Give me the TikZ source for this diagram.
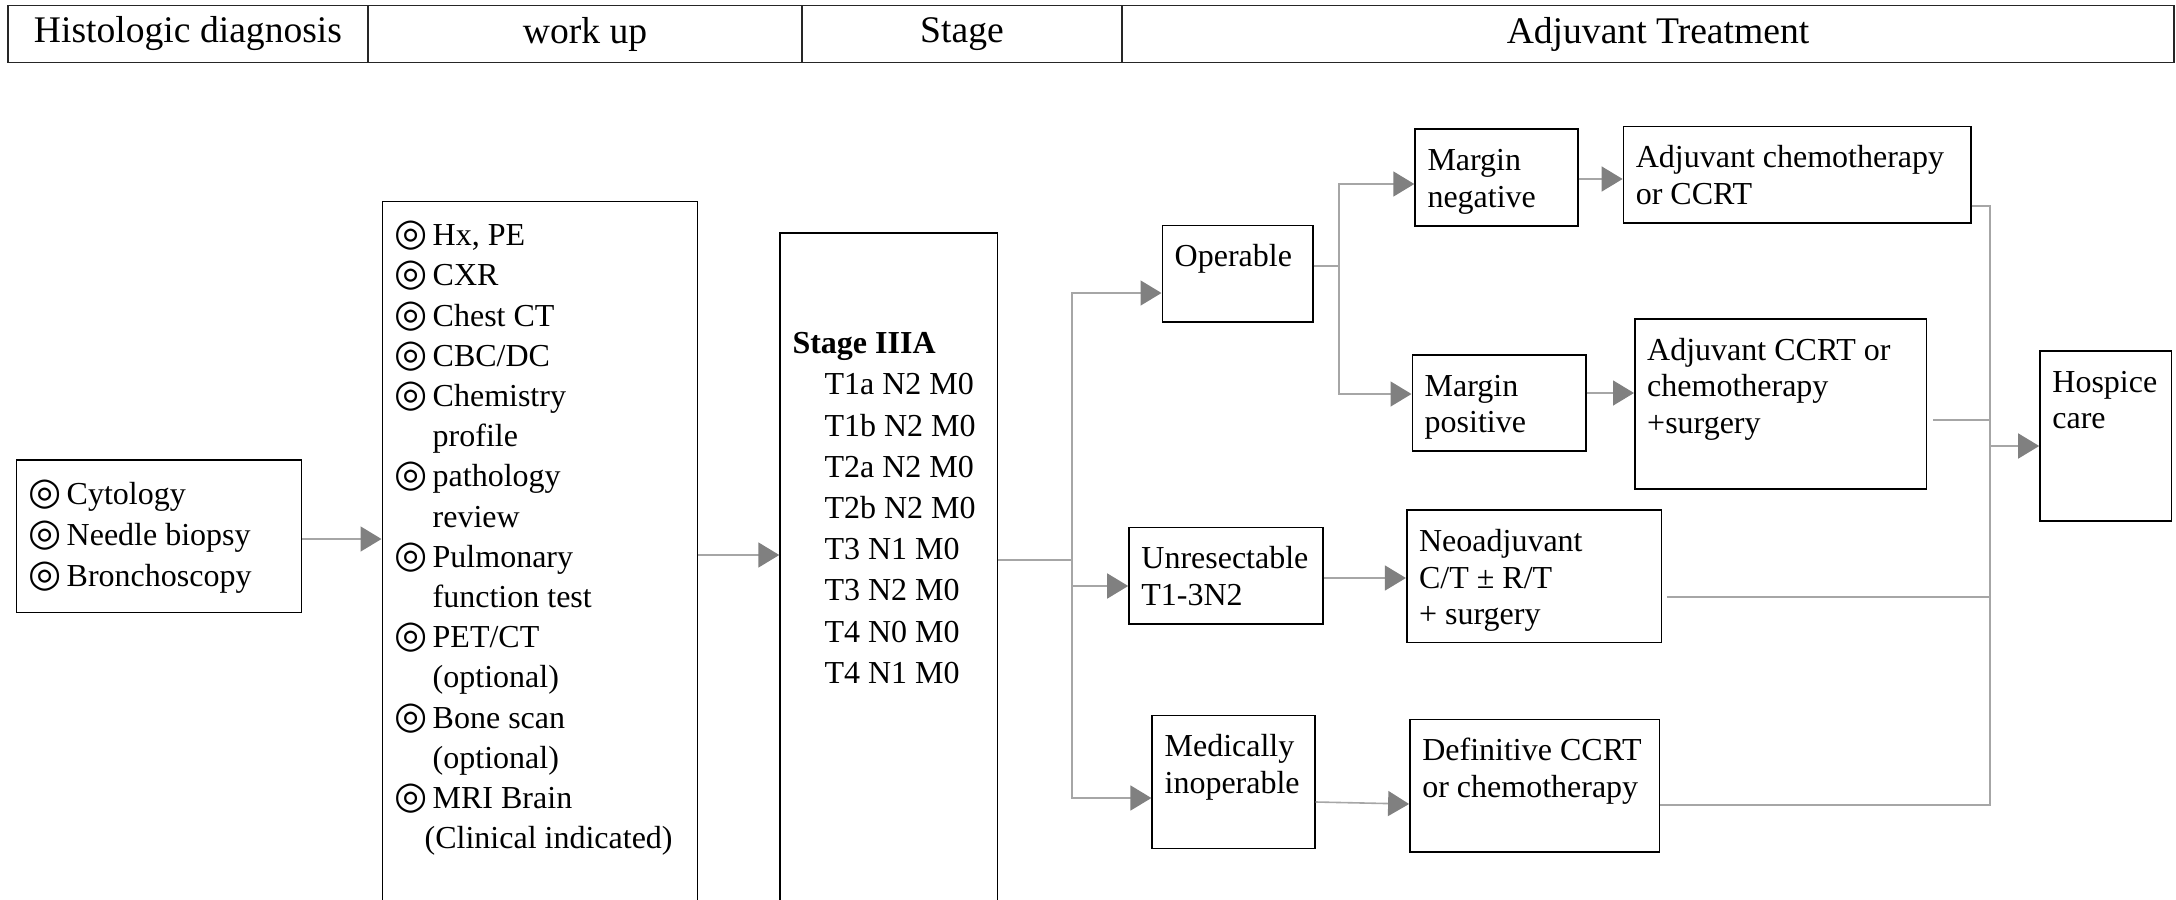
\documentclass[tikz,border=0pt]{standalone}
\usepackage{fontspec}
\setmainfont{Liberation Serif}
\newfontfamily\symfont{DejaVu Sans}
\usetikzlibrary{arrows.meta,calc}

\newcommand{\itm}{\makebox[19pt][l]{\symfont\fontsize{19}{20}\selectfont ◎}}
\newcommand{\cell}[4][0pt]{\parbox[t][\dimexpr#3pt/2-16pt\relax][t]{\dimexpr#2pt/2-12.4pt\relax}{\vspace*{#1}\strut#4}}

\begin{document}
\begin{tikzpicture}[x=0.5pt, y=-0.5pt,
	hd/.style={draw=black!85, line width=0.8pt, inner sep=0pt, minimum height=28.5pt, font=\fontsize{18.8}{22}\selectfont},
	box/.style={draw, line width=0.8pt, anchor=north west, inner xsep=6.2pt, inner ysep=8pt},
	rbox/.style={box, font=\fontsize{16}{18.25}\selectfont},
	lbox/.style={box, font=\fontsize{16}{20.4}\selectfont},
	lnk/.style={draw=gray!70, line width=0.8pt},
	arw/.style={lnk, -{Triangle[length=10.5pt, width=12.5pt, color=gray]}}]
	\useasboundingbox (0,0) rectangle (2176,900);
	% header row
	\node[hd, minimum width=180pt] (h1) at (188,34) {Histologic diagnosis};
	\node[hd, minimum width=217pt] (h2) at (585,34) {work up};
	\node[hd, minimum width=160pt] (h3) at (962,34) {Stage};
	\node[hd, minimum width=526pt] (h4) at (1648,34) {\hspace*{10pt}Adjuvant Treatment};
	% left columns
	\node[lbox, font=\fontsize{16}{20.5}\selectfont] (cyt) at (15.5,459) {\cell{285}{152.5}{\itm Cytology\\ \itm Needle biopsy\\ \itm Bronchoscopy}};
	\node[lbox, font=\fontsize{16}{20.1}\selectfont] (wu) at (381.5,200.7) {\cell{315}{730}{\itm Hx, PE\\ \itm CXR\\ \itm Chest CT\\ \itm CBC/DC\\ \itm Chemistry\\ \hspace*{19pt}profile\\ \itm pathology\\ \hspace*{19pt}review\\ \itm Pulmonary\\ \hspace*{19pt}function test\\ \itm PET/CT\\ \hspace*{19pt}(optional)\\ \itm Bone scan\\ \hspace*{19pt}(optional)\\ \itm MRI Brain\\ \hspace*{15pt}(Clinical indicated)}};
	\node[lbox, font=\fontsize{16}{20.6}\selectfont] (stg) at (779.3,232) {\cell[38pt]{217.4}{700}{\textbf{Stage IIIA}\\ \hspace*{16pt}T1a N2 M0\\ \hspace*{16pt}T1b N2 M0\\ \hspace*{16pt}T2a N2 M0\\ \hspace*{16pt}T2b N2 M0\\ \hspace*{16pt}T3 N1 M0\\ \hspace*{16pt}T3 N2 M0\\ \hspace*{16pt}T4 N0 M0\\ \hspace*{16pt}T4 N1 M0}};
	% treatment boxes
	\node[rbox] (op) at (1161.5,224.5) {\cell{150.5}{96.5}{Operable}};
	\node[rbox] (mneg) at (1414.3,128.3) {\cell{162.7}{97}{Margin\\ negative}};
	\node[rbox] (ac) at (1622.6,125.6) {\cell{347.4}{96.7}{Adjuvant chemotherapy\\ or CCRT}};
	\node[rbox] (mpos) at (1411.5,354) {\cell{173.5}{96}{Margin\\ positive}};
	\node[rbox] (acc) at (1634,318) {\cell{291.7}{170}{Adjuvant CCRT or\\ chemotherapy\\ +surgery}};
	\node[rbox] (hos) at (2039.2,350) {\cell{131.5}{170.4}{Hospice\\ care}};
	\node[rbox] (unr) at (1128.2,526.5) {\cell{194}{96.8}{Unresectable\\ T1-3N2}};
	\node[rbox] (neo) at (1405.9,509.3) {\cell{254.8}{132.5}{Neoadjuvant\\ C/T ± R/T\\ + surgery}};
	\node[rbox] (med) at (1151.4,714.5) {\cell{162.6}{133.3}{Medically\\ inoperable}};
	\node[rbox] (def) at (1409.1,718.6) {\cell{249.6}{132.3}{Definitive CCRT\\ or chemotherapy}};
	% connectors
	\draw[arw] (cyt.east |- 0,539) -- (wu.west |- 0,539);
	\draw[arw] (wu.east |- 0,555) -- (stg.west |- 0,555);
	\coordinate (b1) at (1072,560);
	\draw[lnk] (stg.east |- b1) -- (b1);
	\draw[arw] (b1) |- (op.west |- 0,293);
	\draw[arw] (b1) |- (unr.west |- 0,586);
	\draw[arw] (b1) |- (med.west |- 0,798);
	\coordinate (b2) at (1339,266);
	\draw[lnk] (op.east |- b2) -- (b2);
	\draw[arw] (b2) |- (mneg.west |- 0,184);
	\draw[arw] (b2) |- (mpos.west |- 0,394);
	\draw[arw] (mneg.east |- 0,179) -- (ac.west |- 0,179);
	\draw[arw] (mpos.east |- 0,393) -- (acc.west |- 0,393);
	\draw[arw] (unr.east |- 0,578) -- (neo.west |- 0,578);
	\draw[arw] (med.east |- 0,802) -- (def.west |- 0,804);
	% to hospice
	\coordinate (c1) at (1990,206);
	\coordinate (c2) at (1990,805);
	\coordinate (c3) at (1990,446);
	\draw[lnk] (ac.east |- c1) -- (c1) -- (c2) -- (def.east |- c2);
	\draw[lnk] ($(acc.east |- 0,420)+(6,0)$) -- (c1 |- 0,420);
	\draw[lnk] ($(neo.east |- 0,597)+(5,0)$) -- (c1 |- 0,597);
	\draw[arw] (c3) -- (hos.west |- c3);
\end{tikzpicture}
\end{document}
